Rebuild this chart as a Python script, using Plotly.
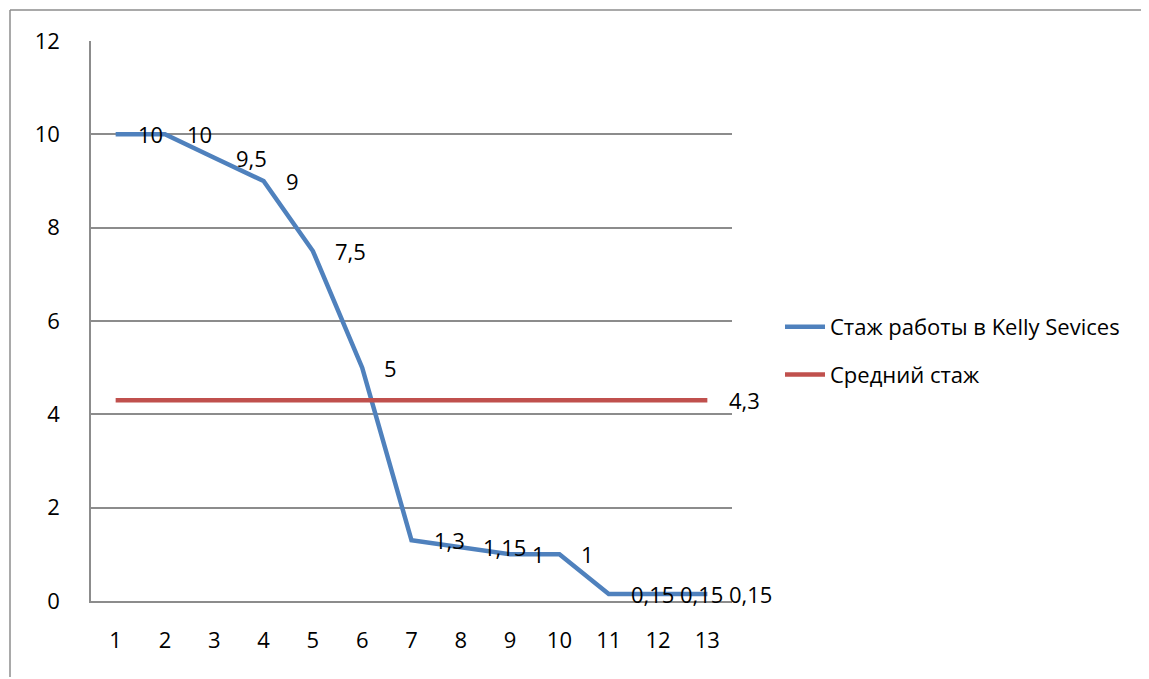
import plotly.graph_objects as go

categories = [1, 2, 3, 4, 5, 6, 7, 8, 9, 10, 11, 12, 13]
tenure = [10, 10, 9.5, 9, 7.5, 5, 1.3, 1.15, 1, 1, 0.15, 0.15, 0.15]
average = [4.3] * 13
series_names = ["Стаж работы в Kelly Sevices", "Средний стаж"]
y_ticks = [0, 2, 4, 6, 8, 10, 12]

FONT = "Open Sans"
FS = 22
BLUE = "#4F81BD"
RED = "#C0504D"
GRID = "#8C8C8C"

def fmt(v):
    return ("%g" % v).replace(".", ",")

fig = go.Figure()
fig.add_trace(go.Scatter(x=categories, y=tenure, mode="lines", name=series_names[0],
                         line=dict(color=BLUE, width=4.5), legendgroup="a"))
fig.add_trace(go.Scatter(x=categories, y=average, mode="lines", name=series_names[1],
                         line=dict(color=RED, width=4.5), legendgroup="b"))

annotations = []
for xv, yv in zip(categories, tenure):
    annotations.append(dict(x=xv, y=yv, xref="x", yref="y", text=fmt(yv), showarrow=False,
                            xanchor="left", yanchor="middle", xshift=20,
                            font=dict(family=FONT, size=FS, color="black")))
annotations.append(dict(x=categories[-1], y=average[-1], xref="x", yref="y", text=fmt(average[-1]),
                        showarrow=False, xanchor="left", yanchor="middle", xshift=20,
                        font=dict(family=FONT, size=FS, color="black")))

# page has ~8px body margin, so figure coordinates are offset
OFF = 8
W, H = 1149 - OFF - 2, 679 - OFF - 2
L, T = 91 - OFF, 41 - OFF
PX_RIGHT = 732 - OFF
PX_BOTTOM = 601 - OFF
R = W - PX_RIGHT
B = H - PX_BOTTOM
pw, ph = W - L - R, H - T - B

def px_to_paper_x(px):
    return (px - OFF - L) / pw

def px_to_paper_y(py):
    return (H - B - (py - OFF)) / ph

shapes = [
    dict(type="line", xref="paper", yref="paper", x0=px_to_paper_x(10), x1=px_to_paper_x(10),
         y0=px_to_paper_y(10), y1=px_to_paper_y(700), line=dict(color="#8C8C8C", width=1.5)),
    dict(type="line", xref="paper", yref="paper", x0=px_to_paper_x(10), x1=px_to_paper_x(1170),
         y0=px_to_paper_y(10), y1=px_to_paper_y(10), line=dict(color="#8C8C8C", width=1.5)),
]

fig.update_layout(
    width=W, height=H,
    margin=dict(l=L, r=R, t=T, b=B, autoexpand=False),
    paper_bgcolor="white", plot_bgcolor="white",
    font=dict(family=FONT, size=FS, color="black"),
    xaxis=dict(range=[0.5, 13.5], tickvals=categories, ticktext=[str(c) for c in categories],
               showgrid=False, zeroline=False, showline=True, linecolor=GRID, linewidth=1.5,
               ticks="", ticklabelstandoff=19, fixedrange=True),
    yaxis=dict(range=[0, 12], tickvals=y_ticks, showgrid=True, gridcolor=GRID, gridwidth=1.5,
               zeroline=False, showline=True, linecolor=GRID, linewidth=1.5,
               ticks="", ticklabelstandoff=25, fixedrange=True),
    legend=dict(x=px_to_paper_x(780), y=px_to_paper_y(306), xanchor="left", yanchor="top",
                font=dict(family=FONT, size=FS), tracegroupgap=16, bgcolor="rgba(0,0,0,0)",
                itemwidth=40),
    annotations=annotations,
    shapes=shapes,
    showlegend=True,
)

fig.write_html("out.html")
